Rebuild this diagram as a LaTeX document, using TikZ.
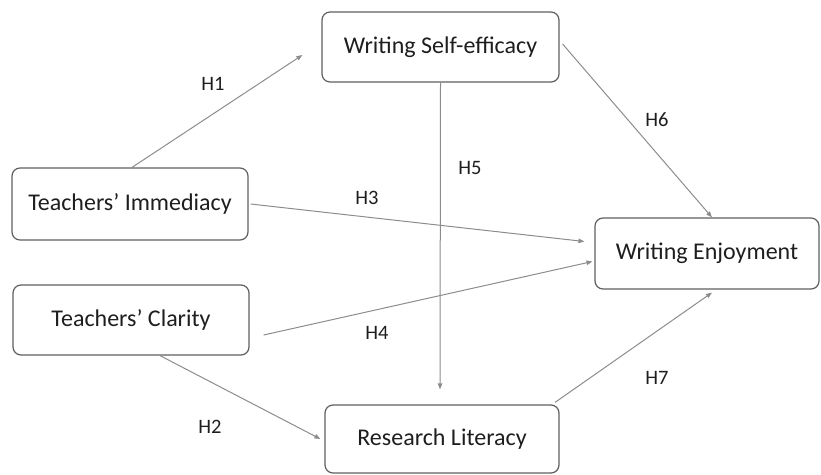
\documentclass[tikz,border=0pt]{standalone}
\usepackage{fontspec}
\setmainfont{Carlito}
\usetikzlibrary{arrows.meta}
\definecolor{boxline}{RGB}{95,95,95}
\definecolor{arrline}{RGB}{140,140,140}
\definecolor{txt}{RGB}{30,30,30}
\begin{document}
\begin{tikzpicture}[x=1pt,y=-1pt,
  varbox/.style={draw=boxline,line width=1.2pt,rounded corners=8pt,text=txt,
    font=\fontsize{24}{28}\selectfont,inner sep=0pt,anchor=center},
  hyp/.style={draw=arrline,line width=1pt,-{Triangle[length=6pt,width=4.5pt]}},
  hlabel/.style={text=txt,font=\fontsize{20.5}{24}\selectfont,inner sep=0pt}]
\useasboundingbox (0,0) rectangle (821,474);
\node[varbox,minimum width=237pt,minimum height=70pt] (WSE) at (440.5,47) {Writing Self-efficacy};
\node[varbox,minimum width=236pt,minimum height=72pt] (TI) at (130,204) {Teachers’ Immediacy};
\node[varbox,minimum width=236pt,minimum height=70pt] (TC) at (131,320) {Teachers’ Clarity};
\node[varbox,minimum width=224pt,minimum height=71pt] (WE) at (707,253.5) {Writing Enjoyment};
\node[varbox,minimum width=234pt,minimum height=68pt] (RL) at (442,439) {Research Literacy};

\draw[hyp] ([xshift=2pt]TI.north) -- ([xshift=-19pt,yshift=-8pt]WSE.west);
\draw[hyp] ([xshift=2pt]TI.east) -- ([xshift=-10pt,yshift=12pt]WE.west);
\draw[hyp] ([xshift=14pt,yshift=-15pt]TC.east) -- ([xshift=-2pt,yshift=-8pt]WE.west);
\draw[hyp] ([xshift=29pt]TC.south) -- ([xshift=-4pt]RL.west);
\draw[hyp] (WSE.south) -- ([xshift=-2pt,yshift=15pt]RL.north);
\draw[hyp] ([xshift=3pt,yshift=3pt]WSE.east) -- ([xshift=5pt]WE.north);
\draw[hyp] ([xshift=113pt,yshift=2pt]RL.north) -- ([xshift=5pt,yshift=-3pt]WE.south);

\node[hlabel] (L1) at (213,84) {H1};
\node[hlabel] (L2) at (210,427) {H2};
\node[hlabel] (L3) at (367,198) {H3};
\node[hlabel] (L4) at (377,333) {H4};
\node[hlabel] (L5) at (470,168) {H5};
\node[hlabel] (L6) at (657,120) {H6};
\node[hlabel] (L7) at (657,378) {H7};
\end{tikzpicture}
\end{document}
